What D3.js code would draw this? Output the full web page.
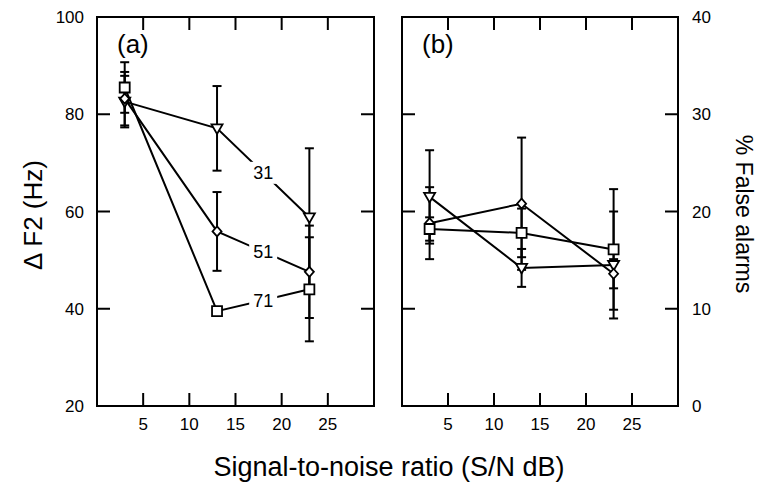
<!DOCTYPE html>
<html>
<head>
<meta charset="utf-8">
<script src="https://cdn.jsdelivr.net/npm/d3@7"></script>
<style>
  body { margin: 0; background: #fff; }
  text { font-family: "Liberation Sans", Arial, Helvetica, sans-serif; fill: #000; }
</style>
</head>
<body>
<script>
// S/N values and axis ticks
var snr = [3, 13, 23];
var xTicks = [5, 10, 15, 20, 25];
var hzTicks = [20, 40, 60, 80, 100];
var faTicks = [0, 10, 20, 30, 40];
var seriesNames = ["31", "51", "71"];

// panel (a): delta F2 in Hz, with error bar half-widths
var hz31 = [82.6, 77.1, 58.8], hz31Err = [5.3, 8.7, 14.2];
var hz51 = [83.2, 55.9, 47.6], hz51Err = [5.5, 8.1, 9.5];
var hz71 = [85.5, 39.5, 44.0], hz71Err = [5.2, 0.8, 10.7];

// panel (b): % false alarms
var fa31 = [21.5, 14.2, 14.5], fa31Err = [4.8, 1.95, 5.5];
var fa51 = [18.8, 20.8, 13.6], fa51Err = [3.7, 6.8, 1.5];
var fa71 = [18.2, 17.8, 16.1], fa71Err = [1.2, 2.5, 6.2];

var width = 763, height = 485;
var plotTop = 17, plotBottom = 406, tickLen = 13;

var svg = d3.select("body").append("svg")
    .attr("width", width)
    .attr("height", height);

var yHz = d3.scaleLinear().domain([20, 100]).range([plotBottom, plotTop]);
var yFa = d3.scaleLinear().domain([0, 40]).range([plotBottom, plotTop]);

var shapes = {
  "31": "M-5.5,-4 L5.5,-4 L0,5.5 Z",
  "51": "M0,-5 L4.5,0 L0,5 L-4.5,0 Z",
  "71": "M-5,-5 L5,-5 L5,5 L-5,5 Z"
};

function panel(x0, x1, y, yTicks, series, label, showLabels) {
  var x = d3.scaleLinear().domain([0, 30]).range([x0, x1]);
  var g = svg.append("g");

  // frame
  g.append("rect")
      .attr("x", x0).attr("y", plotTop)
      .attr("width", x1 - x0).attr("height", plotBottom - plotTop)
      .attr("fill", "none").attr("stroke", "#000").attr("stroke-width", 2);

  // x ticks inward top and bottom
  var xt = g.selectAll(".xt").data(xTicks).enter();
  xt.append("line")
      .attr("x1", function(d) { return x(d); }).attr("x2", function(d) { return x(d); })
      .attr("y1", plotBottom).attr("y2", plotBottom - tickLen)
      .attr("stroke", "#000").attr("stroke-width", 2);
  xt.append("line")
      .attr("x1", function(d) { return x(d); }).attr("x2", function(d) { return x(d); })
      .attr("y1", plotTop).attr("y2", plotTop + tickLen)
      .attr("stroke", "#000").attr("stroke-width", 2);
  xt.append("text")
      .attr("x", function(d) { return x(d); })
      .attr("y", plotBottom + 24)
      .attr("text-anchor", "middle")
      .attr("font-size", 17)
      .text(function(d) { return d; });

  // y ticks inward left and right
  var yt = g.selectAll(".yt").data(yTicks).enter();
  yt.append("line")
      .attr("x1", x0).attr("x2", x0 + tickLen)
      .attr("y1", function(d) { return y(d); }).attr("y2", function(d) { return y(d); })
      .attr("stroke", "#000").attr("stroke-width", 2);
  yt.append("line")
      .attr("x1", x1).attr("x2", x1 - tickLen)
      .attr("y1", function(d) { return y(d); }).attr("y2", function(d) { return y(d); })
      .attr("stroke", "#000").attr("stroke-width", 2);

  g.append("text")
      .attr("x", x0 + 20).attr("y", plotTop + 36)
      .attr("font-size", 26)
      .text(label);

  // error bars
  series.forEach(function(s) {
    var eb = g.append("g").selectAll("g").data(s.vals).enter().append("g");
    eb.append("line")
        .attr("x1", function(d, i) { return x(snr[i]); })
        .attr("x2", function(d, i) { return x(snr[i]); })
        .attr("y1", function(d, i) { return y(d - s.err[i]); })
        .attr("y2", function(d, i) { return y(d + s.err[i]); })
        .attr("stroke", "#000").attr("stroke-width", 2);
    [-1, 1].forEach(function(sign) {
      eb.append("line")
          .attr("x1", function(d, i) { return x(snr[i]) - 4.5; })
          .attr("x2", function(d, i) { return x(snr[i]) + 4.5; })
          .attr("y1", function(d, i) { return y(d + sign * s.err[i]); })
          .attr("y2", function(d, i) { return y(d + sign * s.err[i]); })
          .attr("stroke", "#000").attr("stroke-width", 2);
    });
  });

  // lines
  var line = d3.line()
      .x(function(d, i) { return x(snr[i]); })
      .y(function(d) { return y(d); });
  series.forEach(function(s) {
    g.append("path")
        .attr("d", line(s.vals))
        .attr("fill", "none").attr("stroke", "#000").attr("stroke-width", 2);
  });

  // inline labels on the last segment
  if (showLabels) {
    series.forEach(function(s) {
      var lx = x((snr[1] + snr[2]) / 2);
      var ly = y((s.vals[1] + s.vals[2]) / 2);
      g.append("rect")
          .attr("x", lx - 14).attr("y", ly - 11)
          .attr("width", 28).attr("height", 22)
          .attr("fill", "#fff");
      g.append("text")
          .attr("x", lx).attr("y", ly + 6.5)
          .attr("text-anchor", "middle")
          .attr("font-size", 18)
          .text(s.name);
    });
  }

  // markers
  series.forEach(function(s) {
    g.append("g").selectAll("path").data(s.vals).enter().append("path")
        .attr("d", shapes[s.name])
        .attr("transform", function(d, i) { return "translate(" + x(snr[i]) + "," + y(d) + ")"; })
        .attr("fill", "#fff").attr("stroke", "#000").attr("stroke-width", 1.8);
  });
}

panel(97, 374, yHz, hzTicks, [
  { name: seriesNames[0], vals: hz31, err: hz31Err },
  { name: seriesNames[1], vals: hz51, err: hz51Err },
  { name: seriesNames[2], vals: hz71, err: hz71Err }
], "(a)", true);

panel(402, 678, yFa, faTicks, [
  { name: seriesNames[0], vals: fa31, err: fa31Err },
  { name: seriesNames[1], vals: fa51, err: fa51Err },
  { name: seriesNames[2], vals: fa71, err: fa71Err }
], "(b)", false);

// left axis labels
svg.selectAll(".hzl").data(hzTicks).enter().append("text")
    .attr("x", 84).attr("y", function(d) { return yHz(d) + 6; })
    .attr("text-anchor", "end")
    .attr("font-size", 17)
    .text(function(d) { return d; });

// right axis labels
svg.selectAll(".fal").data(faTicks).enter().append("text")
    .attr("x", 692).attr("y", function(d) { return yFa(d) + 6; })
    .attr("text-anchor", "start")
    .attr("font-size", 17)
    .text(function(d) { return d; });

// axis titles
svg.append("text")
    .attr("x", 389).attr("y", 476)
    .attr("text-anchor", "middle")
    .attr("font-size", 27)
    .text("Signal-to-noise ratio (S/N dB)");

svg.append("text")
    .attr("transform", "translate(42,215) rotate(-90)")
    .attr("text-anchor", "middle")
    .attr("font-size", 26)
    .text("\u0394 F2 (Hz)");

svg.append("text")
    .attr("transform", "translate(736,214) rotate(90)")
    .attr("text-anchor", "middle")
    .attr("font-size", 23)
    .text("% False alarms");
</script>
</body>
</html>
